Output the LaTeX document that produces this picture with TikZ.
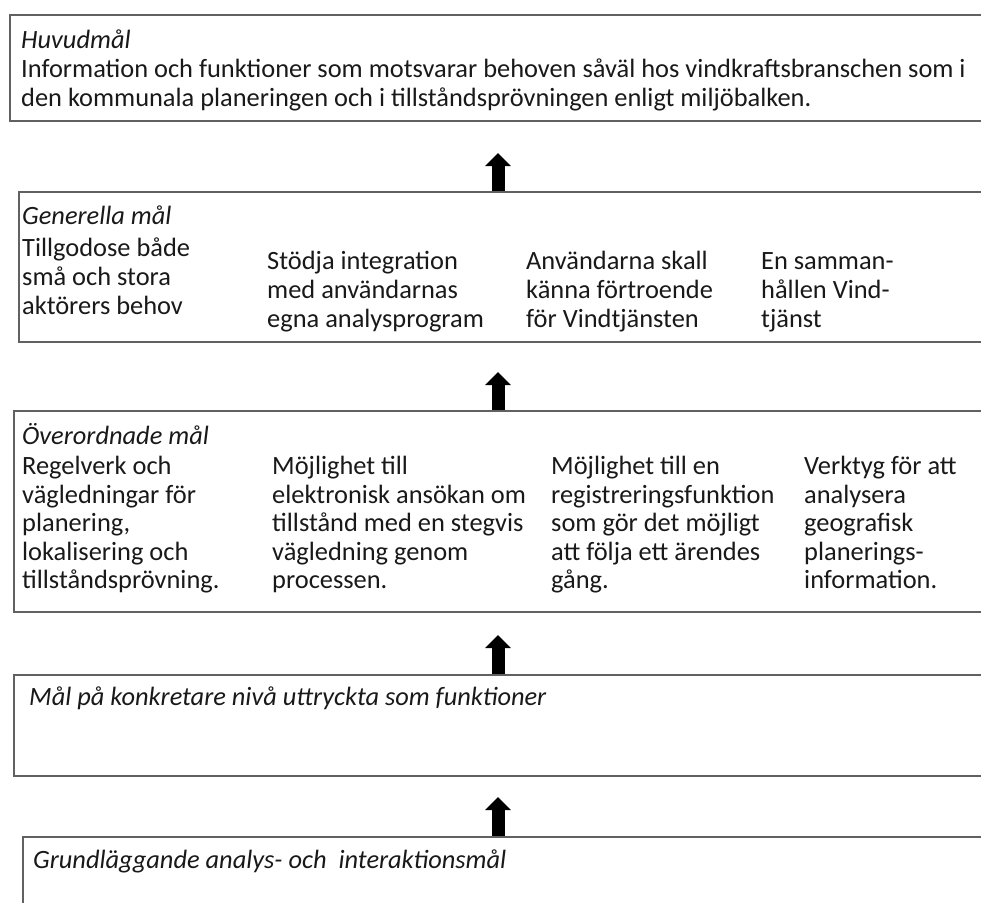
\documentclass[tikz,border=0pt]{standalone}
\usepackage{fontspec}
\setmainfont{Carlito}
\usetikzlibrary{arrows.meta}
\tikzset{
  goalbox/.style={draw=black!62, line width=1.6pt, rectangle, inner sep=0pt, anchor=north west, minimum width=1000pt},
  txt/.style={anchor=north west, inner sep=0pt, align=left, font=\fontsize{26.4}{29}\selectfont, text=black!90},
  txtb/.style={txt, font=\fontsize{26.4}{28.5}\selectfont},
  hdr/.style={txt, font=\fontsize{26.4}{29}\selectfont\itshape},
  uparrow/.style={line width=13pt, -{Triangle[width=25pt,length=13pt]}, black}
}
\begin{document}
\begin{tikzpicture}[x=1pt,y=-1pt]
\useasboundingbox (0,0) rectangle (981,902);
\clip (0,0) rectangle (981,902);
\fill[white] (0,0) rectangle (981,902);
% boxes
\node[goalbox, minimum height=106pt] (b1) at (9,14) {};
\node[goalbox, minimum height=150pt] (b2) at (18,191) {};
\node[goalbox, minimum height=201pt] (b3) at (13,410) {};
\node[goalbox, minimum height=101pt] (b4) at (13,674) {};
\node[goalbox, minimum height=120pt] (b5) at (22,836) {};
% box 1
\node[hdr] (h1) at (21,28.2) {\strut Huvudmål};
\node[txt] (t1) at (21,57.2) {\strut Information och funktioner som motsvarar behoven såväl hos vindkraftsbranschen som i\\den kommunala planeringen och i tillståndsprövningen enligt miljöbalken.};
% box 2
\node[hdr] (h2) at (22,204.2) {\strut Generella mål};
\node[txt] (g1) at (22,235.7) {\strut Tillgodose både\\små och stora\\aktörers behov};
\node[txt] (g2) at (267,248.7) {\strut Stödja integration\\med användarnas\\egna analysprogram};
\node[txt] (g3) at (526,248.7) {\strut Användarna skall\\känna förtroende\\för Vindtjänsten};
\node[txt] (g4) at (761,248.7) {\strut En samman-\\hållen Vind-\\tjänst};
% box 3
\node[hdr] (h3) at (22,422.7) {\strut Överordnade mål};
\node[txtb] (o1) at (22,454.7) {\strut Regelverk och\\vägledningar för\\planering,\\lokalisering och\\tillståndsprövning.};
\node[txtb] (o2) at (272,454.7) {\strut Möjlighet till\\elektronisk ansökan om\\tillstånd med en stegvis\\vägledning genom\\processen.};
\node[txtb] (o3) at (551,454.7) {\strut Möjlighet till en\\registreringsfunktion\\som gör det möjligt\\att följa ett ärendes\\gång.};
\node[txtb] (o4) at (804,454.7) {\strut Verktyg för att\\analysera\\geografisk\\planerings-\\information.};
% box 4, 5
\node[hdr] (h4) at (29,684.7) {\strut Mål på konkretare nivå uttryckta som funktioner};
\node[hdr] (h5) at (33,847.7) {\strut Grundläggande analys- och~ interaktionsmål};
% arrows
\coordinate (a1) at (498,153);
\coordinate (a2) at (498,372);
\coordinate (a3) at (498,635);
\coordinate (a4) at (498,797);
\draw[uparrow] (a1 |- b2.north) -- (a1);
\draw[uparrow] (a2 |- b3.north) -- (a2);
\draw[uparrow] (a3 |- b4.north) -- (a3);
\draw[uparrow] (a4 |- b5.north) -- (a4);
\end{tikzpicture}
\end{document}
